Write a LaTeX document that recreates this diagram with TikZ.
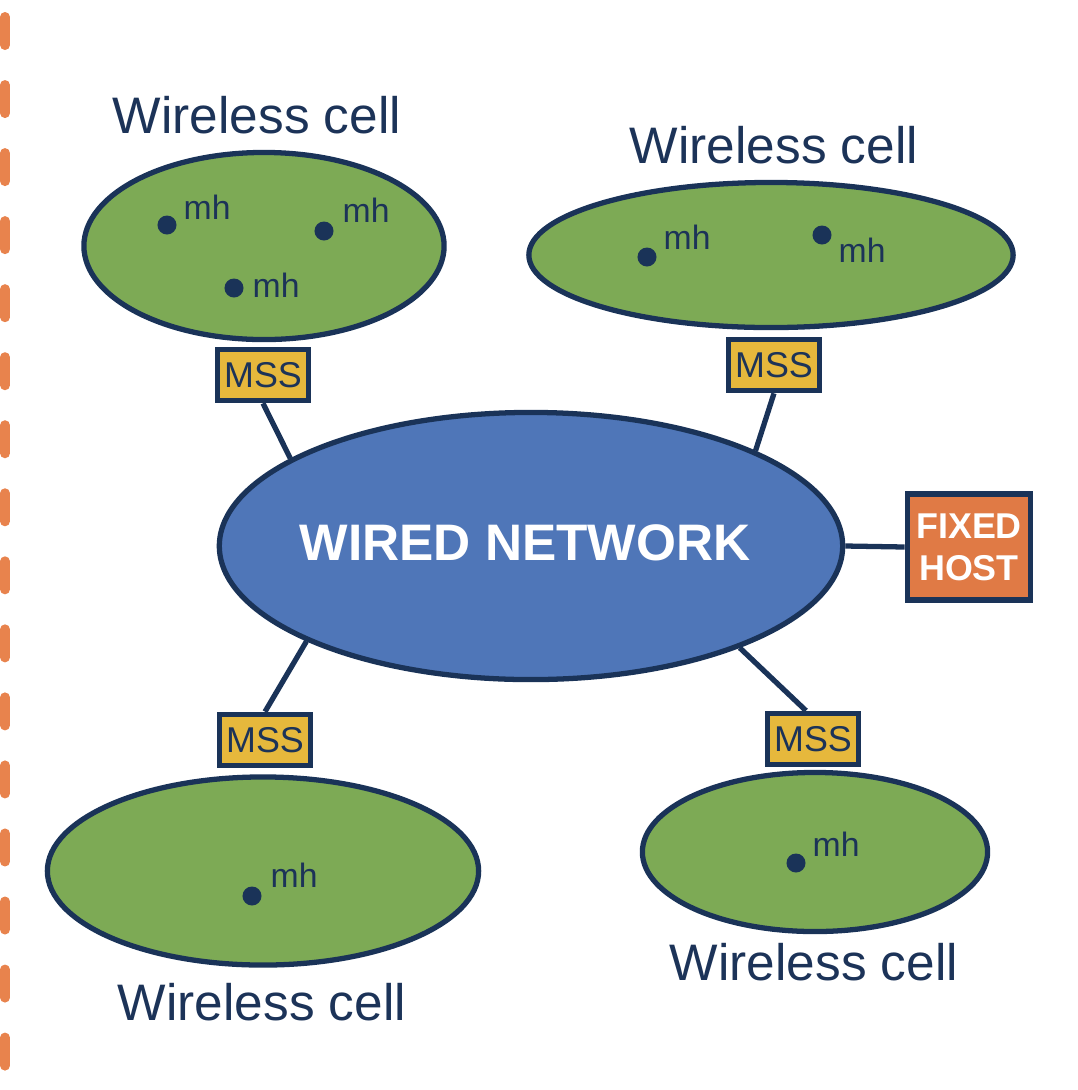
\documentclass[tikz,border=0pt]{standalone}
\usepackage{fontspec}
\setmainfont{Liberation Sans}
\usetikzlibrary{shapes.geometric}

\definecolor{navy}{HTML}{1A3358}
\definecolor{textnavy}{HTML}{1C3358}
\definecolor{cellgreen}{HTML}{7DAA55}
\definecolor{wiredblue}{HTML}{4F76B8}
\definecolor{mssgold}{HTML}{E6B83C}
\definecolor{hostorange}{HTML}{E07A45}
\definecolor{dashorange}{HTML}{E8834D}

\tikzset{
    cell/.style={ellipse, draw=navy, line width=1.5pt, fill=cellgreen, inner sep=0pt},
    wired/.style={ellipse, draw=navy, line width=1.5pt, fill=wiredblue, inner sep=0pt,
        minimum width=6.23cm, minimum height=2.67cm},
    mss/.style={draw=navy, line width=1.6pt, fill=mssgold, inner sep=0pt,
        minimum width=0.91cm, minimum height=0.51cm, text=textnavy, font=\fontsize{10.2}{12}\selectfont},
    fixedhost/.style={draw=navy, line width=1.6pt, fill=hostorange, inner sep=0pt,
        minimum width=1.23cm, minimum height=1.06cm, text=white, align=center,
        font=\fontsize{10.2}{12}\selectfont\bfseries},
    mhdot/.style={circle, fill=navy, inner sep=0pt, minimum size=0.19cm},
    mhlabel/.style={anchor=west, inner sep=0pt, text=textnavy, font=\fontsize{9.6}{11}\selectfont},
    celllabel/.style={inner sep=0pt, text=textnavy, font=\fontsize{14.6}{17}\selectfont},
    link/.style={draw=navy, line width=1.5pt},
}

\begin{document}
\begin{tikzpicture}[x=0.01cm, y=-0.01cm]
    \useasboundingbox (0,0) rectangle (1078,1090);

    % dashed border on the left
    \draw[dashorange, line width=0.1cm, line cap=round, dash pattern=on 0.28cm off 0.40cm]
        (5,17) -- (5,1090);

    % wired network
    \node[wired] (wired) at (531,546) {};
    \node[text=white, font=\fontsize{14.6}{17}\selectfont\bfseries] (wiredtext) at (525,543) {WIRED NETWORK};

    % wireless cells
    \node[cell, minimum width=3.60cm, minimum height=1.87cm] (cellTL) at (264,246) {};
    \node[cell, minimum width=4.84cm, minimum height=1.45cm] (cellTR) at (771,255) {};
    \node[cell, minimum width=4.31cm, minimum height=1.88cm] (cellBL) at (263,871) {};
    \node[cell, minimum width=3.45cm, minimum height=1.59cm] (cellBR) at (815,852) {};

    \node[celllabel] (labelTL) at (257,115) {Wireless cell};
    \node[celllabel] (labelTR) at (774,145) {Wireless cell};
    \node[celllabel] (labelBL) at (262,1002) {Wireless cell};
    \node[celllabel] (labelBR) at (814,962) {Wireless cell};

    % mobile hosts
    \node[mhdot] (mh1) at (167,225) {};
    \node[mhlabel] (mhl1) at (183,207) {mh};
    \node[mhdot] (mh2) at (324,231) {};
    \node[mhlabel] (mhl2) at (342,210) {mh};
    \node[mhdot] (mh3) at (234,288) {};
    \node[mhlabel] (mhl3) at (252,285) {mh};
    \node[mhdot] (mh4) at (647,257) {};
    \node[mhlabel] (mhl4) at (663,237) {mh};
    \node[mhdot] (mh5) at (822,235) {};
    \node[mhlabel] (mhl5) at (838,250) {mh};
    \node[mhdot] (mh6) at (252,896) {};
    \node[mhlabel] (mhl6) at (270,875) {mh};
    \node[mhdot] (mh7) at (796,863) {};
    \node[mhlabel] (mhl7) at (812,844) {mh};

    % support stations
    \node[mss] (mssTL) at (263,375) {MSS};
    \node[mss] (mssTR) at (774,365) {MSS};
    \node[mss] (mssBL) at (265,740) {MSS};
    \node[mss] (mssBR) at (813,739) {MSS};
    \node[fixedhost] (host) at (969,547) {FIXED\\HOST};

    % links
    \draw[link] (mssTL.south) -- (wired.160.6);
    \draw[link] (mssTR.south) -- (wired.23.5);
    \draw[link] (mssBL.north) -- (wired.203.9);
    \draw[link] ([xshift=-0.07cm]mssBR.north) -- (wired.334.2);
    \draw[link] (wired.east) -- (host.west);
\end{tikzpicture}
\end{document}
